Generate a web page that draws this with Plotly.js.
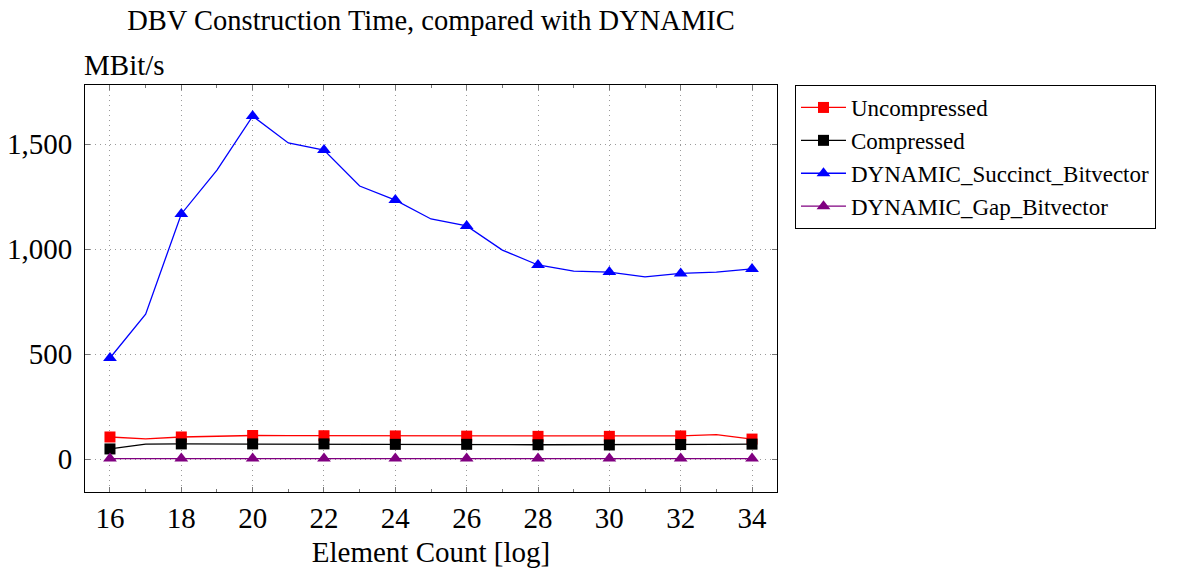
<!DOCTYPE html>
<html>
<head>
<meta charset="utf-8">
<script src="https://cdn.plot.ly/plotly-3.0.1.min.js"></script>
<style>html,body{margin:0;padding:0;background:#fff;}#chart{width:1177px;height:572px;}</style>
</head>
<body>
<div id="chart"></div>
<script>
const elementCount = [16,17,18,19,20,21,22,23,24,25,26,27,28,29,30,31,32,33,34];
const uncompressed = [105,96,105,109,112,111,111,110,110,110,109,108,108,108,108,109,110,116,95];
const compressed = [48,71,72,72,72,72,72,71,70,70,70,69,68,68,67,68,69,70,71];
const dynSuccinct = [481,690,1167,1376,1633,1505,1471,1300,1233,1143,1110,995,924,895,890,867,884,890,905];
const dynGap = [2,2,2,2,2,2,2,2,2,2,2,2,2,2,2,2,2,2,2];
const seriesNames = ["Uncompressed","Compressed","DYNAMIC_Succinct_Bitvector","DYNAMIC_Gap_Bitvector"];
const xTicks = [16,18,20,22,24,26,28,30,32,34];
const yTicks = [0,500,1000,1500];

const font = "'Liberation Serif', 'Times New Roman', serif";
// markers only on even element counts (odd points get an invisible stroke-only symbol)
function symbols(sym){ return elementCount.map(x => x % 2 === 0 ? sym : 'line-ew'); }
function mk(y, name, color, symbol, s){
  return {x: elementCount, y: y, name: name, type: 'scatter', mode: 'lines+markers',
    line: {color: color, width: 1.3},
    marker: {color: color, symbol: symbols(symbol), size: s, opacity: 1, line: {width: 0}}};
}
const data = [
  mk(uncompressed, seriesNames[0], '#ff0000', 'square', 11),
  mk(compressed, seriesNames[1], '#000000', 'square', 11),
  mk(dynSuccinct, seriesNames[2], '#0000ff', 'triangle-up', 12),
  mk(dynGap, seriesNames[3], '#800080', 'triangle-up', 12)
];
const axisCommon = {showline: true, linecolor: '#000', linewidth: 1, mirror: 'ticks',
  ticks: 'inside', ticklen: 5, tickcolor: '#777', showgrid: true, gridcolor: '#9a9a9a',
  griddash: '1px,4px', gridwidth: 1, zeroline: false, tickfont: {family: font, size: 29, color: '#000'}};
const layout = {
  width: 1177, height: 572,
  margin: {l: 85, r: 400, t: 85, b: 80},
  paper_bgcolor: '#fff', plot_bgcolor: '#fff',
  font: {family: font, color: '#000'},
  title: {text: 'DBV Construction Time, compared with DYNAMIC', font: {family: font, size: 28.5, color: '#000'},
    x: 431/1177, xanchor: 'center', y: 0.965, yanchor: 'middle'},
  xaxis: Object.assign({}, axisCommon, {range: [15.3, 34.7], tickvals: xTicks,
    minor: {tickvals: elementCount.filter(x => x % 2 === 1), ticks: 'inside', ticklen: 3, tickcolor: '#777', showgrid: false},
    title: {text: 'Element Count [log]', font: {family: font, size: 29, color: '#000'}, standoff: 8}}),
  yaxis: Object.assign({}, axisCommon, {range: [-157, 1781], tickvals: yTicks, tickformat: ',d', ticklabelstandoff: 6}),
  legend: {x: 1.026, y: 1, xanchor: 'left', yanchor: 'top', bordercolor: '#000', borderwidth: 1,
    bgcolor: '#fff', font: {family: font, size: 23, color: '#000'}, tracegroupgap: 0, itemwidth: 45},
  annotations: [{text: 'MBit/s', xref: 'paper', yref: 'paper', x: 0, y: 1, xanchor: 'left', yanchor: 'bottom',
    xshift: -3, yshift: 2, showarrow: false, font: {family: font, size: 29, color: '#000'}}],
  showlegend: true
};
Plotly.newPlot('chart', data, layout, {displayModeBar: false, staticPlot: true});
</script>
</body>
</html>
